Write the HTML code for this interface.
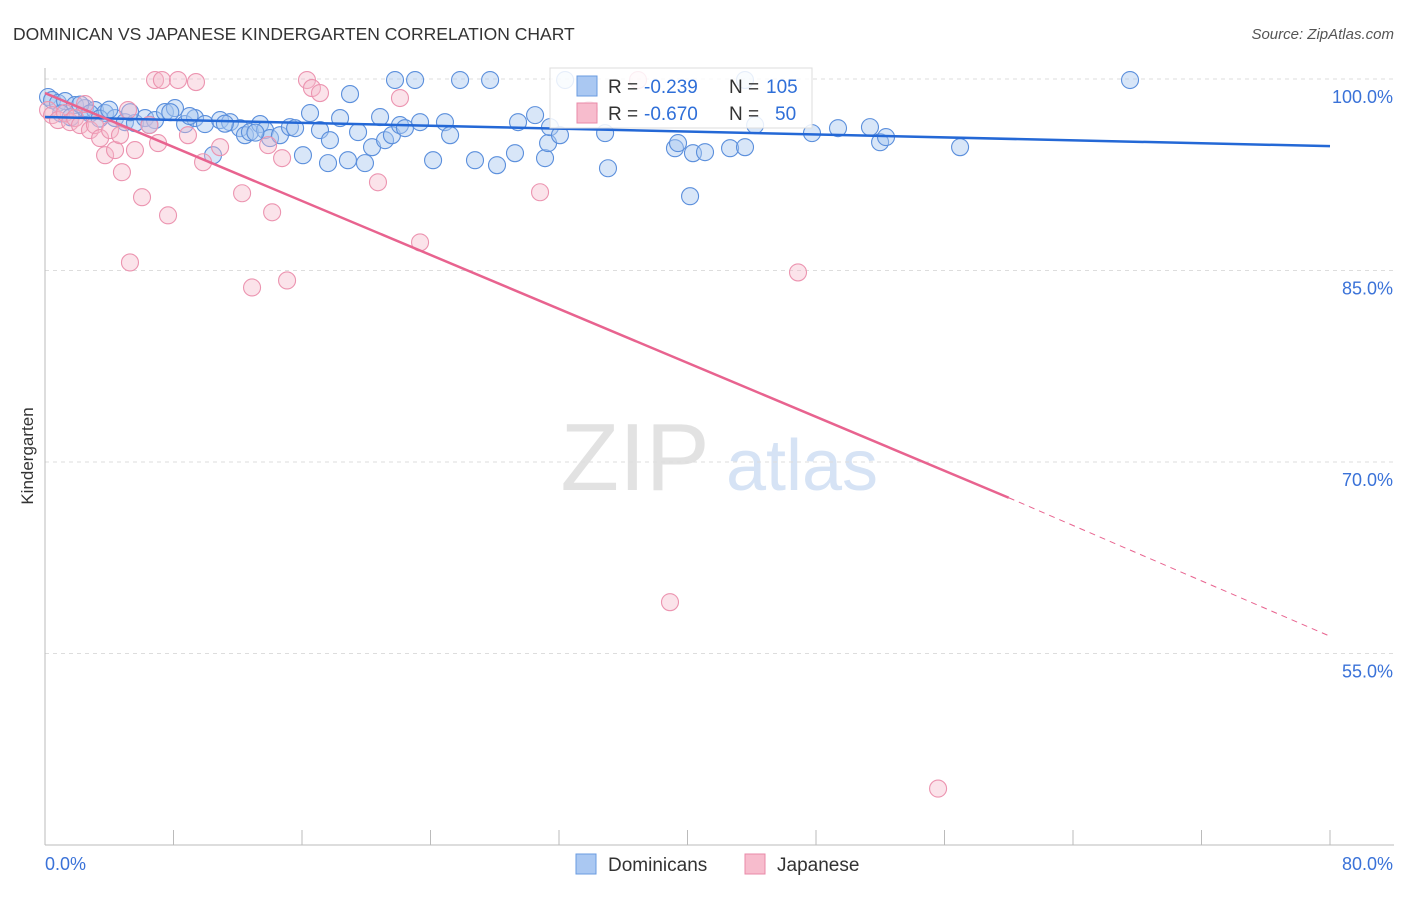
<!DOCTYPE html>
<html><head><meta charset="utf-8"><style>
body{margin:0;background:#fff;font-family:"Liberation Sans",sans-serif}
svg text{font-family:"Liberation Sans",sans-serif}
</style></head><body>
<svg id="chart" width="1406" height="892" viewBox="0 0 1406 892" xmlns="http://www.w3.org/2000/svg">
<text x="13" y="40" font-size="17.5" fill="#333">DOMINICAN VS JAPANESE KINDERGARTEN CORRELATION CHART</text>
<text x="1394" y="39" font-size="15" fill="#555" text-anchor="end" font-style="italic">Source: ZipAtlas.com</text>
<g>
<text x="635" y="490" font-size="96" fill="#e2e2e2" text-anchor="middle" font-family="Liberation Serif">ZIP</text>
<text x="802" y="490" font-size="72" fill="#d6e3f5" text-anchor="middle">atlas</text>
</g>
<g id="grid"></g>
<g id="axes"></g>
<g id="pts"></g>
<g id="trend"></g>
<text transform="translate(33,456) rotate(-90)" font-size="17" fill="#333" text-anchor="middle">Kindergarten</text>
<g>
<rect x="550" y="68" width="262" height="60" fill="#fff" fill-opacity="0.85" stroke="#ddd"/>
<rect x="577" y="76" width="20" height="20" fill="#aac8f2" stroke="#6a9be0"/>
<rect x="577" y="103" width="20" height="20" fill="#f7bccd" stroke="#e88aa8"/>
<text x="608" y="93" font-size="19" fill="#333">R =</text>
<text x="644" y="93" font-size="19" fill="#2f6fd8">-0.239</text>
<text x="729" y="93" font-size="19" fill="#333">N =</text>
<text x="766" y="93" font-size="19" fill="#2f6fd8">105</text>
<text x="608" y="120" font-size="19" fill="#333">R =</text>
<text x="644" y="120" font-size="19" fill="#2f6fd8">-0.670</text>
<text x="729" y="120" font-size="19" fill="#333">N =</text>
<text x="775" y="120" font-size="19" fill="#2f6fd8">50</text>
</g>
<g>
<rect x="576" y="854" width="20" height="20" fill="#aac8f2" stroke="#6a9be0"/>
<text x="608" y="871" font-size="19" fill="#333">Dominicans</text>
<rect x="745" y="854" width="20" height="20" fill="#f7bccd" stroke="#e88aa8"/>
<text x="777" y="871" font-size="19" fill="#333">Japanese</text>
</g>
</svg>
<script>
const yTicks=[100,85,70,55];
const yTickLabels=["100.0%","85.0%","70.0%","55.0%"];
const xTicks=[0,8,16,24,32,40,48,56,64,72,80];
const blueX=[0.19,0.44,0.81,1.25,1.87,2.49,3.11,3.74,4.36,4.98,5.6,6.23,6.85,7.47,8.09,8.72,9.34,9.96,10.46,10.9,11.52,12.14,12.45,12.76,13.39,13.7,14.01,14.63,15.25,15.57,16.06,16.5,17.12,17.62,17.74,18.37,18.86,18.99,19.49,19.92,20.36,20.86,21.17,21.6,21.79,22.1,22.41,23.04,23.35,24.16,24.9,25.22,25.84,26.77,27.71,28.14,29.26,29.45,30.51,31.13,31.32,31.44,32.06,32.38,34.87,35.05,39.22,39.41,40.16,40.34,41.09,42.65,43.58,43.58,44.21,47.75,49.37,51.36,51.99,52.36,56.97,67.55,1.0,1.6,2.2,2.8,3.4,4.0,5.3,6.5,7.8,9.0,11.2,13.1];
const blueY=[98.59,98.35,98.12,98.27,97.96,97.72,97.57,97.33,96.94,96.62,96.55,96.94,96.78,97.41,97.72,96.47,96.94,96.47,94.03,96.78,96.62,96.15,95.6,95.84,96.47,96.0,95.37,95.6,96.23,96.15,94.03,97.33,96.0,93.41,95.21,96.94,93.64,98.82,95.84,93.41,94.66,97.02,95.21,95.6,99.92,96.39,96.15,99.92,96.62,93.64,96.62,95.6,99.92,93.64,99.92,93.25,94.19,96.62,97.17,93.8,94.98,96.23,95.6,99.92,95.76,93.01,94.58,94.98,90.82,94.19,94.27,94.58,94.66,99.92,96.39,95.76,96.15,96.23,95.05,95.45,94.66,99.92,97.3,97.0,98.0,97.3,96.9,97.6,97.4,96.4,97.4,97.1,96.5,95.8];
const pinkX=[0.19,0.44,0.81,1.25,1.56,1.87,2.18,2.49,2.8,3.11,3.43,3.74,4.05,4.36,4.67,4.79,5.17,5.29,5.6,6.04,6.5,6.85,7.04,7.28,7.66,8.28,8.9,9.4,9.84,10.9,12.27,12.89,13.89,14.14,14.76,15.07,16.31,16.62,17.12,20.73,22.1,23.35,30.82,33.87,36.92,38.91,46.88,55.6];
const pinkY=[97.57,97.17,96.78,97.33,96.62,96.94,96.39,98.04,96.0,96.39,95.37,94.03,96.0,94.43,95.6,92.7,97.57,85.63,94.43,90.74,96.39,99.92,94.98,99.92,89.32,99.92,95.6,99.76,93.48,94.66,91.05,83.67,94.82,89.56,93.8,84.22,99.92,99.29,98.9,91.91,98.51,87.2,91.13,97.57,99.92,59.02,84.85,44.42];
const blueTrend=[[0,97.02],[80,94.74]];
const pinkTrend=[[0,98.9],[60,67.2],[80,56.35]];
const NS="http://www.w3.org/2000/svg";
const X0=45,X1=1330,Y100=79,PX15=191.5;
const sx=v=>X0+(v/80)*(X1-X0);
const sy=v=>Y100+(100-v)/15*PX15;
function mk(tag,attrs,parent){const e=document.createElementNS(NS,tag);for(const k in attrs)e.setAttribute(k,attrs[k]);parent.appendChild(e);return e;}
const grid=document.getElementById('grid'),axes=document.getElementById('axes');
yTicks.forEach((t,i)=>{
 const l=mk('line',{x1:X0,x2:1394,y1:sy(t),y2:sy(t),stroke:'#ddd','stroke-dasharray':'4,4'},grid);
 
 
 const tx=mk('text',{x:1393,y:sy(t)+24,'font-size':18,fill:'#3a72d8','text-anchor':'end'},axes);
 tx.textContent=yTickLabels[i];
 
 
});
const ya=mk('line',{x1:X0,x2:X0,y1:68,y2:845,stroke:'#bbb'},axes);


const xa=mk('line',{x1:X0,x2:1394,y1:845,y2:845,stroke:'#bbb'},axes);


xTicks.forEach(t=>{
 const l=mk('line',{x1:sx(t),x2:sx(t),y1:830,y2:845,stroke:'#bbb'},axes);
 
 
});
const xl0=mk('text',{x:45,y:870,'font-size':18,fill:'#3a72d8'},axes);xl0.textContent='0.0%';


const xl1=mk('text',{x:1393,y:870,'font-size':18,fill:'#3a72d8','text-anchor':'end'},axes);xl1.textContent='80.0%';


const pts=document.getElementById('pts');
blueX.forEach((x,i)=>{
 const c=mk('circle',{cx:sx(x),cy:sy(blueY[i]),r:8.5,fill:'#a9c7f0','fill-opacity':0.45,stroke:'#5b8fdc','stroke-width':1.1},pts);
 
 
});
pinkX.forEach((x,i)=>{
 const c=mk('circle',{cx:sx(x),cy:sy(pinkY[i]),r:8.5,fill:'#f6b8cb','fill-opacity':0.4,stroke:'#ec94b0','stroke-width':1.1},pts);
 
 
});
const tr=document.getElementById('trend');
const bt=mk('line',{x1:sx(blueTrend[0][0]),y1:sy(blueTrend[0][1]),x2:sx(blueTrend[1][0]),y2:sy(blueTrend[1][1]),stroke:'#2468d6','stroke-width':2.5},tr);


const pt=mk('line',{x1:sx(pinkTrend[0][0]),y1:sy(pinkTrend[0][1]),x2:sx(pinkTrend[1][0]),y2:sy(pinkTrend[1][1]),stroke:'#e8638f','stroke-width':2.5},tr);


const pd=mk('line',{x1:sx(pinkTrend[1][0]),y1:sy(pinkTrend[1][1]),x2:sx(pinkTrend[2][0]),y2:sy(pinkTrend[2][1]),stroke:'#e8638f','stroke-width':1,'stroke-dasharray':'6,5'},tr);


</script>
</body></html>
